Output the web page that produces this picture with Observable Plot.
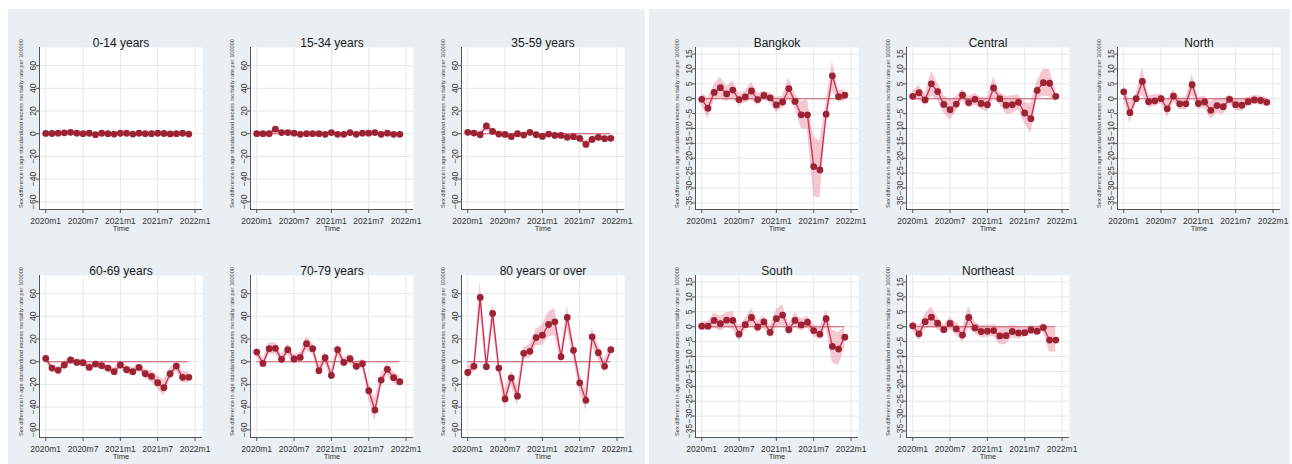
<!DOCTYPE html>
<html><head><meta charset="utf-8">
<script src="https://cdn.jsdelivr.net/npm/d3@7"></script>
<script src="https://cdn.jsdelivr.net/npm/@observablehq/plot@0.6"></script>
<style>
html,body{margin:0;padding:0;background:#fff;}
#root{position:relative;width:1292px;height:464px;overflow:hidden;background:#fff;}
.bg{position:absolute;background:#e9eff2;}
.panel{position:absolute;}
</style></head><body><div id="root">
<div class="bg" style="left:8px;top:9px;width:637px;height:455px"></div>
<div class="bg" style="left:649px;top:9px;width:641px;height:455px"></div>
</div>
<script>
// ---- data ----
const months = ["2020m1","2020m2","2020m3","2020m4","2020m5","2020m6","2020m7","2020m8","2020m9","2020m10","2020m11","2020m12",
                "2021m1","2021m2","2021m3","2021m4","2021m5","2021m6","2021m7","2021m8","2021m9","2021m10","2021m11","2021m12"];
const xTickMonths = [0, 6, 12, 18, 24];
const xTickLabels = ["2020m1","2020m7","2021m1","2021m7","2022m1"];
const ageTicks = [-60,-40,-20,0,20,40,60];
const regionTicks = [-35,-30,-25,-20,-15,-10,-5,0,5,10,15];
const yTitle = "Sex difference in age standardized excess mortality rate per 100000";
const xTitle = "Time";

const v_0_14 = [0.3,0.2,0.5,0.8,1.2,0.5,0,0.4,-0.8,0.4,0,-0.3,0.4,0.4,-0.3,0.4,0,0,0.4,0.2,-0.2,0,0.4,-0.3];
const ci_0_14 = [1,1,1,1,1,1,1,1,1,1,1,1,1,1,1,1,1,1,1,1,1,1,1,1];
const v_15_34 = [0,0,0,4,1,1,0.5,-0.5,0,0,0,-0.5,1,-0.5,-0.5,1,-0.5,0.5,0.5,1,-0.5,0.5,-0.5,-0.5];
const ci_15_34 = [1.5,1.5,1.5,2.5,1.5,1.5,1.5,1.5,1.5,1.5,1.5,1.5,1.5,1.5,1.5,1.5,1.5,1.5,1.5,1.5,1.5,1.5,1.5,1.5];
const v_35_59 = [1.2,0.6,-0.9,6.8,2,-0.3,-0.6,-2.6,0,-1.2,1.2,-0.9,-2.4,-0.3,-1.5,-1.5,-3.2,-2.6,-4.1,-9.4,-5,-3.2,-4.4,-4.1];
const ci_35_59 = [2,2,2,4,2.5,2,2,2,2,2,2,2,2,2,2,2,2,2.5,3,3.5,2.5,2,2,2];
const v_60_69 = [2.9,-5.6,-7.6,-2.9,1.5,-0.6,-0.9,-5,-2.1,-3.5,-5.6,-8.8,-2.9,-7.1,-8.8,-5,-10.6,-12.9,-18.5,-22.9,-10.6,-3.8,-13.8,-13.8];
const ci_60_69 = [3,3,3,3,3,3,3,3,3,3,3,3.5,3.5,3.5,3.5,3.5,4,5,6,7,5,4,5,5];
const v_70_79 = [8.5,-1.5,11.5,11.8,2.1,10.6,2.4,3.8,15.9,11.5,-7.9,3.5,-12.1,10.6,-0.6,2.6,-4.1,-1.8,-25.6,-42.6,-16.2,-6.8,-14.1,-17.6];
const ci_70_79 = [4,4,5,5,4,5,4,4,6,5,5,5,5,5,4,4,4,4,7,10,6,5,5,5];
const v_80 = [-9.5,-4.1,56.7,-4.4,42.6,-5.6,-32.8,-14.2,-30.4,7.4,9.2,21.3,23.4,32.8,35.2,4.4,39,10,-18.6,-34,21.9,8,-4.1,10.6];
const ci_80 = [6,5,14,6,10,6,8,6,9,5,6,7,9,11,12,6,10,7,8,9,8,6,6,5];
const v_bangkok = [-0.2,-3.2,2.1,3.7,1.6,2.9,-0.3,0.6,2.6,-0.3,1.1,0.3,-2.1,-1.1,3.4,-0.9,-5.4,-5.4,-22.8,-23.9,-5.2,7.7,0.7,1.2];
const ci_bangkok = [2,3.5,2.5,3.5,2.5,3,2,2,3,2,1.5,1.5,2.5,2,3.5,2.5,4.5,5,10,9.5,4,5,2,2];
const v_central = [0.8,2,-0.4,5,2.4,-1.9,-3.7,-1.8,1.2,-1.3,-0.2,-1.6,-2,3.6,0,-2.2,-2,-1.2,-4.8,-6.7,2.8,5.4,5.2,0.8];
const ci_central = [1.5,2.5,2,4,3,3,3.5,2.5,2,2,2,2,2.5,3.5,2,3,3,2.5,3.5,5,3,4.5,4.5,2];
const v_north = [2.3,-4.7,0,5.8,-1,-0.7,0,-3.4,0.9,-1.7,-1.7,4.7,-1.6,-1.1,-3.9,-2.3,-2.7,-0.2,-2,-2.2,-1,-0.4,-0.6,-1.2];
const ci_north = [2.5,3.5,1.5,4.5,2,2,1.5,3,2,2,2,3.5,2,2,3,2.5,2.5,1.5,2,2,1.5,1.5,1.5,1.5];
const v_south = [0.2,0.2,2.1,1,2.2,2.1,-2.5,0.7,3.1,-0.1,1.6,-1.9,2.7,3.9,-1,2.1,0.6,1.5,-1.3,-2.5,2.7,-6.6,-7.5,-3.5];
const ci_south = [1.5,1.5,2.5,2.5,2.5,3,2.5,2,3,2,2,2,3,3.5,2,2.5,2,2,2,2,3,5.5,5.5,3.5];
const v_northeast = [0.3,-2.4,1.7,3.2,1.2,-1,1.1,-0.7,-2.8,3.1,-0.4,-1.6,-1.5,-1.3,-3.1,-3,-1.6,-2.1,-2,-1.1,-1.5,-0.3,-4.5,-4.5];
const ci_northeast = [1.5,2.5,2.5,3.5,2,1.5,2,2,2.5,3.5,2,2,2,2,3,3,2,2,1.5,1.5,1.5,1.5,4,4];

// ---- layout ----
const panels = [
  {title:"0-14 years", values:v_0_14, ci:ci_0_14, group:"age", col:0, row:0},
  {title:"15-34 years", values:v_15_34, ci:ci_15_34, group:"age", col:1, row:0},
  {title:"35-59 years", values:v_35_59, ci:ci_35_59, group:"age", col:2, row:0},
  {title:"60-69 years", values:v_60_69, ci:ci_60_69, group:"age", col:0, row:1},
  {title:"70-79 years", values:v_70_79, ci:ci_70_79, group:"age", col:1, row:1},
  {title:"80 years or over", values:v_80, ci:ci_80, group:"age", col:2, row:1},
  {title:"Bangkok", values:v_bangkok, ci:ci_bangkok, group:"region", col:0, row:0},
  {title:"Central", values:v_central, ci:ci_central, group:"region", col:1, row:0},
  {title:"North", values:v_north, ci:ci_north, group:"region", col:2, row:0},
  {title:"South", values:v_south, ci:ci_south, group:"region", col:0, row:1},
  {title:"Northeast", values:v_northeast, ci:ci_northeast, group:"region", col:1, row:1}
];
const groupLeft = {age: 39, region: 695};
const colStep = 211, rowTops = [47, 275];
const ML = 39, MT = 47, FW = 163, FH = 162;
const xDomain = [-1, 25.2];
const root = document.getElementById("root");

for (const p of panels) {
  const rows = p.values.map((v, i) => ({m: i, month: months[i], v, lo: v - p.ci[i], hi: v + p.ci[i]}));
  const yDomain = p.group === "age" ? [-66.8, 76] : [-37.2, 17.2];
  const yTicks = p.group === "age" ? ageTicks : regionTicks;
  const svg = Plot.plot({
    width: ML + FW + 9, height: MT + FH + 26,
    marginLeft: ML, marginTop: MT, marginRight: 9, marginBottom: 26,
    style: {background: "transparent", fontFamily: "'Liberation Sans', Arial, sans-serif", overflow: "visible"},
    x: {domain: xDomain},
    y: {domain: yDomain},
    marks: [
      Plot.frame({fill: "white", stroke: "none"}),
      Plot.gridX(xTickMonths, {stroke: "#e4e8ea", strokeOpacity: 1}),
      Plot.gridY(yTicks, {stroke: "#e4e8ea", strokeOpacity: 1}),
      Plot.areaY(rows, {x: "m", y1: "lo", y2: "hi", fill: "#ec8fa4", fillOpacity: 0.5}),
      Plot.ruleY([0], {x1: 0, x2: rows.length - 1, stroke: "#c65a66", strokeWidth: 1.1}),
      Plot.lineY(rows, {x: "m", y: "v", stroke: "#c9304d", strokeWidth: 1.3}),
      Plot.dot(rows, {x: "m", y: "v", r: 3.4, fill: "#9c2234", stroke: "none"}),
      Plot.ruleX([xDomain[0]], {stroke: "#555", strokeWidth: 1}),
      Plot.ruleY([yDomain[0]], {stroke: "#555", strokeWidth: 1}),
      Plot.axisX({ticks: xTickMonths, tickFormat: d => xTickLabels[xTickMonths.indexOf(d)], tickSize: 4, tickPadding: 4,
                  fontSize: 8.5, stroke: "#555", fill: "#333", label: null}),
      Plot.axisY({ticks: yTicks, tickRotate: -90, tickSize: 3, tickPadding: 0.5,
                  fontSize: 8.5, stroke: "#555", fill: "#333", label: null}),
      Plot.text([yTitle], {text: d => d, frameAnchor: "left", textAnchor: "middle", lineAnchor: "middle",
                           rotate: -90, dx: -18, dy: -5, fontSize: 5.6, fill: "#444"}),
      Plot.text([p.title], {text: d => d, frameAnchor: "top", textAnchor: "middle", dy: -9, fontSize: 12, fill: "#1a1a1a"}),
      Plot.text([xTitle], {text: d => d, frameAnchor: "bottom", textAnchor: "middle", dy: 21, fontSize: 7.5, fill: "#333"})
    ]
  });
  svg.classList.add("panel");
  const frameLeft = groupLeft[p.group] + p.col * colStep;
  const frameTop = rowTops[p.row];
  svg.style.left = (frameLeft - ML) + "px";
  svg.style.top = (frameTop - MT) + "px";
  svg.style.position = "absolute";
  root.appendChild(svg);
}
</script>
</body></html>
